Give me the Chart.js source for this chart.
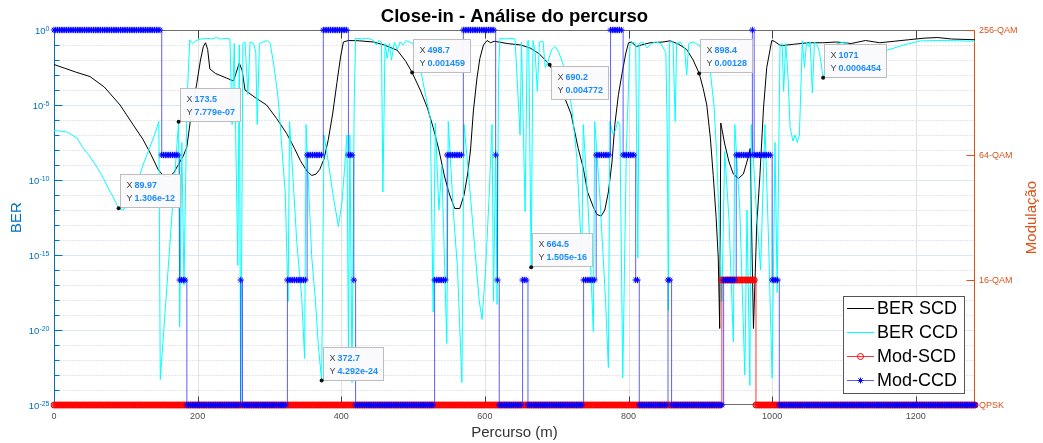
<!DOCTYPE html>
<html>
<head>
<meta charset="utf-8">
<title>Close-in - Análise do percurso</title>
<script src="https://cdn.jsdelivr.net/npm/chart.js@4/dist/chart.umd.min.js"></script>
<style>
  html, body { margin: 0; padding: 0; background: #fff; }
  #wrap { width: 1043px; height: 443px; }
</style>
</head>
<body>
<div id="wrap"><canvas id="chart" width="1043" height="443"></canvas></div>
<script>
// ---- data ----
// BER curves: [distance (m), log10(BER)]
const berScd = [
  [0,-2.3],[15,-2.55],[30,-2.8],[50,-3.1],[70,-3.8],[92,-5.0],[110,-6.3],[124,-7.3],[135,-8.3],[145,-9.3],
  [152,-9.7],[160,-9.8],[167,-9.5],[174,-8.9],[180,-8.4],[185,-7.8],[190,-6.0],[195,-4.6],[199,-3.5],[204,-2.0],
  [208,-1.1],[211,-0.85],[214,-1.3],[217,-2.6],[225,-2.9],[240,-3.2],[250,-3.4],[254,-2.8],[258,-2.2],[262,-2.7],
  [266,-4.0],[280,-4.5],[296,-5.0],[310,-5.9],[324,-6.9],[335,-7.9],[343,-8.7],[352,-9.4],[359,-9.7],[365,-9.6],
  [370,-9.3],[376,-8.6],[382,-7.3],[388,-5.6],[394,-3.5],[399,-1.8],[403,-0.8],[410,-0.7],[425,-0.72],[445,-0.8],
  [460,-1.0],[478,-1.35],[490,-2.1],[498.7,-2.84],[510,-4.0],[520,-5.2],[528,-6.5],[536,-8.0],[544,-9.8],[551,-11.0],
  [558,-11.9],[565,-11.9],[571,-11.0],[576,-9.6],[580,-8.0],[584,-5.4],[589,-3.2],[593,-1.9],[598,-1.0],[603,-0.7],
  [608,-0.85],[613,-0.75],[631,-0.9],[650,-1.0],[663,-1.2],[676,-1.6],[686,-2.1],[690.2,-2.32],[700,-3.3],[711,-4.5],
  [720,-5.6],[730,-7.9],[737,-9.2],[743,-10.8],[751,-11.8],[756,-12.3],[762,-12.4],[767,-12.0],[772,-10.8],[777,-8.8],
  [781,-6.3],[786,-4.3],[791,-2.9],[796,-1.6],[800,-0.85],[804,-0.8],[811,-1.1],[818,-1.0],[830,-0.85],[848,-0.8],
  [858,-0.72],[870,-0.95],[881,-1.3],[890,-2.0],[898.4,-2.89],[904,-3.9],[909,-5.0],[914,-7.2],[918,-9.7],[922,-12.5],
  [925,-15.2],[927,-19.9],[928.5,-6.2],[934,-7.6],[940,-8.8],[946,-9.6],[953,-9.9],[960,-9.6],[966,-8.6],[969.4,-7.9],
  [974,-19.9],[978.6,-13],[983,-9.7],[988,-5.2],[992.5,-2.5],[999.5,-0.7],[1003,-0.75],[1012,-1.05],[1030,-0.95],[1050,-0.85],
  [1070,-0.85],[1090,-0.8],[1110,-0.9],[1130,-0.7],[1150,-0.85],[1170,-0.75],[1190,-0.65],[1210,-0.55],[1230,-0.5],[1250,-0.6],
  [1282.5,-0.65]
];
const berCcd = [
  [0,-6.7],[10,-6.75],[18,-6.8],[25,-7.0],[32,-7.2],[41,-7.9],[48,-8.3],[55,-8.8],[62,-9.3],[69,-9.9],
  [75,-10.5],[81,-11.0],[86,-11.5],[89.97,-11.88],[96,-12.0],[101,-11.8],[106,-11.6],[112,-10.8],[118,-9.9],[124,-9.0],
  [132,-8.0],[140,-7.0],[146,-6.1],[148,-23.3],[173.5,-6.11],[175,-19.8],[178,-7.5],[181,-17],[185,-5],[189,-0.65],
  [193,-0.9],[198,-0.7],[205,-0.6],[213,-0.55],[220,-0.6],[226,-0.5],[232,-0.6],[240,-0.55],[245,-0.6],[248,-6.3],
  [251,-0.9],[256,-15.7],[258,-1.0],[260,-26],[263,-0.9],[266,-0.8],[270,-4.3],[273,-0.8],[278,-0.9],[281,-1.5],
  [283,-6.3],[286,-0.9],[291,-0.8],[297,-0.7],[301,-0.9],[305,-2],[308,-3.0],[312,-4.5],[315,-6.3],[319,-9],
  [322,-10.8],[326,-18.1],[328,-6.1],[333,-10],[338,-14.1],[345,-17.9],[349,-21.9],[351,-6.3],[355,-11],[359,-15.2],
  [364,-18],[368,-21],[372.7,-23.37],[376,-7.0],[381,-8.5],[388,-10.8],[396,-13.1],[401,-11.5],[405,-9],[408,-7.0],
  [410,-21.5],[412,-7],[415,-23.5],[418,-5],[420,-0.55],[428,-0.6],[435,-0.55],[440,-0.6],[445,-0.7],[449,-1.0],
  [452,-0.7],[456,-0.8],[458,-10.8],[461,-0.9],[464,-1.9],[467,-0.9],[470,-2.0],[474,-0.8],[478,-1.3],[482,-0.8],
  [486,-1.0],[490,-0.7],[500,-0.9],[510,-2.5],[518,-4.5],[524,-5.9],[528,-18.8],[531,-6.2],[536,-12],[540,-9],
  [547,-20.9],[549,-6.1],[556,-12],[562,-16],[568,-23.5],[571,-6.3],[578,-10],[585,-14],[592,-18],[596,-19.3],
  [601,-16],[606,-11],[610,-6.3],[612,-18.1],[615,-8],[617,-18.3],[619,-3],[621,-0.55],[628,-0.6],[635,-0.55],
  [642,-0.6],[649,-7],[651,-0.8],[656,-12.1],[659,-0.8],[661,-0.7],[664.5,-15.82],[667,-0.7],[670,-1.5],[673,-4.1],
  [676,-0.8],[681,-0.75],[684,-2.5],[688,-2.1],[693,-1.3],[698,-1.1],[703,-1.5],[709,-2.3],[715,-3.5],[721,-5.2],
  [728,-8.5],[735,-15.2],[737,-6.3],[744,-12],[751,-20.1],[753,-6.1],[760,-11],[768,-18],[772,-22.5],[774,-6.1],
  [778,-6.9],[781,-6.8],[785,-6.1],[788,-6.3],[792,-23.2],[797,-8],[802,-1.0],[806,-0.8],[810,-0.9],[813,-15.2],
  [815,-0.9],[820,-0.8],[826,-1.2],[832,-0.9],[838,-0.8],[845,-0.9],[852,-1.5],[854,-7],[855.5,-18.7],[857,-0.8],
  [862,-0.8],[865,-6.1],[867,-0.9],[872,-0.8],[878,-1.2],[881,-3.0],[884,-0.9],[890,-0.8],[898,-1.0],[905,-1.5],
  [910,-2.2],[914,-2.8],[919,-5],[923,-8.5],[930,-18.1],[934,-8.1],[940,-12.7],[946,-20.8],[948,-6.3],[955,-12],
  [962,-23],[965,-12],[969,-23.7],[971,-6.3],[978,-12],[984,-16],[990,-6.3],[995,-14],[1000,-23.2],[1004,-7.5],
  [1007,-17.5],[1011,-1.0],[1014,-0.9],[1016,-4.1],[1019,-0.9],[1022,-3],[1025,-6.5],[1029,-7.4],[1032,-7.0],[1035,-7.5],
  [1038,-7.0],[1042,-0.73],[1045,-2.5],[1048,-0.8],[1051,-1.1],[1053,-0.8],[1056,-4.2],[1059,-0.8],[1063,-1.0],[1066,-1.5],
  [1071,-3.19],[1085,-1.0],[1100,-0.8],[1120,-1.3],[1140,-1.8],[1160,-1.35],[1183,-1.0],[1206,-0.73],[1230,-0.7],[1260,-0.72],
  [1282.5,-0.75]
];

// modulation logs: level changes (start distance in m -> level)
// levels: 0 = QPSK, 1 = 16-QAM, 2 = 64-QAM, 3 = 256-QAM
const modCcdStart = [0, 150, 175, 185, 260, 262.5, 325, 352.5, 375, 410, 417.5, 420, 530, 547.5, 570, 615, 617.5,
  620, 652.5, 660, 737.5, 755, 775, 792.5, 810, 815, 855, 860, 932.5, 950, 972.5, 975, 1000, 1010];
const modCcdLevel = [3, 2, 1, 0, 1, 0, 1, 2, 3, 2, 1, 0, 1, 2, 3, 2, 1,
  0, 1, 0, 1, 2, 3, 2, 1, 0, 1, 0, 1, 2, 3, 2, 1, 0];
const modScdStart = [0, 930, 977.5];
const modScdLevel = [0, 1, 0];
const modStep = 2.5;      // sample spacing of the modulation log (m)
const modSamples = 514;   // 0 .. 1282.5 m

// axes
const xTicks = [0, 200, 400, 600, 800, 1000, 1200];
const berTickExp = [0, -5, -10, -15, -20, -25];
const modTicks = [0, 1, 2, 3];
const modLabels = ['QPSK', '16-QAM', '64-QAM', '256-QAM'];

// data tips
const tipX = [89.97, 173.5, 372.7, 498.7, 664.5, 690.2, 898.4, 1071];
const tipY = [1.306e-12, 7.779e-07, 4.292e-24, 0.001459, 1.505e-16, 0.004772, 0.00128, 0.0006454];
const tipSide = ['up', 'up', 'up', 'up', 'up', 'down', 'up', 'up'];

// ---- build datasets ----
const FONT = '"Liberation Sans", Arial, Helvetica, sans-serif';
const BLUE_AX = '#0072BD';
const ORANGE_AX = '#D95319';

function levelAt(starts, levels, d) {
    let lv = levels[0];
    for (let k = 0; k < starts.length; k++) {
        if (d >= starts[k] - 1e-9) lv = levels[k];
    }
    return lv;
}

const distance = [];
for (let i = 0; i < modSamples; i++) distance.push(i * modStep);

const modCcd = distance.map(d => ({ x: d, y: levelAt(modCcdStart, modCcdLevel, d) }));
const modScd = distance.map(d => ({ x: d, y: levelAt(modScdStart, modScdLevel, d) }));
const toBer = pts => pts.map(p => ({ x: p[0], y: Math.pow(10, p[1]) }));

// %.4g style, like the MATLAB data tips
function fmtG(v) {
    const e = Math.floor(Math.log10(Math.abs(v)));
    if (e < -4 || e >= 4) {
        let s = v.toExponential(3).replace(/\.?0+e/, 'e');
        return s.replace(/e([+-])(\d)$/, (m, sg, dg) => 'e' + sg + '0' + dg);
    }
    return String(Number(v.toPrecision(4)));
}

function drawStar(ctx, cx, cy, r) {
    const d = r * Math.SQRT1_2;
    ctx.beginPath();
    ctx.moveTo(cx - r, cy); ctx.lineTo(cx + r, cy);
    ctx.moveTo(cx, cy - r); ctx.lineTo(cx, cy + r);
    ctx.moveTo(cx - d, cy - d); ctx.lineTo(cx + d, cy + d);
    ctx.moveTo(cx - d, cy + d); ctx.lineTo(cx + d, cy - d);
    ctx.stroke();
}

const matlabFrame = {
    id: 'matlabFrame',
    beforeDatasetsDraw(chart) {
        const { ctx, chartArea: a } = chart;
        const { x, y, y2 } = chart.scales;
        const L = a.left + 0.5, R = a.right - 0.5, T = a.top + 0.5, B = a.bottom - 0.5;
        ctx.save();
        ctx.lineWidth = 1;

        // vertical grid
        ctx.strokeStyle = '#e2e2e2';
        ctx.beginPath();
        xTicks.forEach(v => {
            const px = Math.round(x.getPixelForValue(v)) + 0.5;
            if (px > L + 1 && px < R - 1) { ctx.moveTo(px, T); ctx.lineTo(px, B); }
        });
        ctx.stroke();

        // minor decades (dotted)
        ctx.strokeStyle = '#c4ced8';
        ctx.setLineDash([1, 2]);
        ctx.beginPath();
        for (let e = -25; e <= 0; e++) {
            if (berTickExp.includes(e)) continue;
            const py = Math.round(y.getPixelForValue(Math.pow(10, e))) + 0.5;
            ctx.moveTo(L, py); ctx.lineTo(R, py);
        }
        ctx.stroke();
        ctx.setLineDash([]);

        // major decades
        ctx.strokeStyle = '#d9e8f4';
        ctx.beginPath();
        berTickExp.forEach(e => {
            const py = Math.round(y.getPixelForValue(Math.pow(10, e))) + 0.5;
            if (py > T + 1 && py < B - 1) { ctx.moveTo(L, py); ctx.lineTo(R, py); }
        });
        ctx.stroke();

        // box top / bottom
        ctx.strokeStyle = '#6f6f6f';
        ctx.beginPath();
        ctx.moveTo(L, T); ctx.lineTo(R, T);
        ctx.moveTo(L, B); ctx.lineTo(R, B);
        ctx.stroke();

        // x ticks (inward, bottom and top)
        ctx.strokeStyle = '#404040';
        ctx.beginPath();
        xTicks.forEach(v => {
            const px = Math.round(x.getPixelForValue(v)) + 0.5;
            ctx.moveTo(px, B); ctx.lineTo(px, B - 8);
            ctx.moveTo(px, T); ctx.lineTo(px, T + 8);
        });
        ctx.stroke();

        // left axis
        ctx.strokeStyle = BLUE_AX;
        ctx.beginPath();
        ctx.moveTo(L, T); ctx.lineTo(L, B);
        for (let e = -25; e <= 0; e++) {
            const py = Math.round(y.getPixelForValue(Math.pow(10, e))) + 0.5;
            ctx.moveTo(L, py); ctx.lineTo(L + (berTickExp.includes(e) ? 8 : 5), py);
        }
        ctx.stroke();

        // right axis
        ctx.strokeStyle = ORANGE_AX;
        ctx.beginPath();
        ctx.moveTo(R, T); ctx.lineTo(R, B);
        modTicks.forEach(v => {
            const py = Math.round(y2.getPixelForValue(v)) + 0.5;
            ctx.moveTo(R, py); ctx.lineTo(R - 8, py);
        });
        ctx.stroke();
        ctx.restore();
    },
    afterDraw(chart) {
        const { ctx, chartArea: a } = chart;
        const { x, y, y2 } = chart.scales;
        const midX = (a.left + a.right) / 2, midY = (a.top + a.bottom) / 2;
        ctx.save();

        // title
        ctx.fillStyle = '#000';
        ctx.font = 'bold 18.5px ' + FONT;
        ctx.textAlign = 'center';
        ctx.textBaseline = 'alphabetic';
        ctx.fillText('Close-in - Análise do percurso', midX, 22);

        // x tick labels + label
        ctx.fillStyle = '#4d4d4d';
        ctx.font = '9px ' + FONT;
        xTicks.forEach(v => ctx.fillText(String(v), x.getPixelForValue(v), a.bottom + 14));
        ctx.fillStyle = '#333';
        ctx.font = '15px ' + FONT;
        ctx.fillText('Percurso (m)', midX, a.bottom + 32);

        // left tick labels 10^e
        ctx.fillStyle = BLUE_AX;
        ctx.textAlign = 'right';
        berTickExp.forEach(e => {
            const py = y.getPixelForValue(Math.pow(10, e));
            const ex = String(e);
            ctx.font = '7px ' + FONT;
            ctx.textBaseline = 'alphabetic';
            const ew = ctx.measureText(ex).width;
            ctx.fillText(ex, a.left - 4.5, py + 0.5);
            ctx.font = '9.5px ' + FONT;
            ctx.textBaseline = 'middle';
            ctx.fillText('10', a.left - 4.5 - ew, py + 1.5);
        });

        // right tick labels
        ctx.fillStyle = ORANGE_AX;
        ctx.textAlign = 'left';
        ctx.textBaseline = 'middle';
        ctx.font = '9px ' + FONT;
        modTicks.forEach((v, i) => ctx.fillText(modLabels[i], a.right + 4, y2.getPixelForValue(v) + 0.5));

        // axis titles
        ctx.font = '15px ' + FONT;
        ctx.textAlign = 'center';
        ctx.save();
        ctx.translate(17, midY);
        ctx.rotate(-Math.PI / 2);
        ctx.fillStyle = BLUE_AX;
        ctx.fillText('BER', 0, 0);
        ctx.restore();
        ctx.save();
        ctx.translate(1032, midY);
        ctx.rotate(-Math.PI / 2);
        ctx.fillStyle = ORANGE_AX;
        ctx.fillText('Modulação', 0, 0);
        ctx.restore();

        // data tips
        tipX.forEach((tx, i) => {
            const px = x.getPixelForValue(tx);
            const py = y.getPixelForValue(tipY[i]);
            const vx = fmtG(tx), vy = fmtG(tipY[i]);
            ctx.font = 'bold 9px ' + FONT;
            const vw = Math.max(ctx.measureText(vx).width, ctx.measureText(vy).width);
            const w = Math.round(14 + vw + 5), h = 33;
            const left = Math.round(px) + 1.5;
            const top = tipSide[i] === 'up' ? Math.round(py) - h - 0.5 : Math.round(py) + 1.5;
            ctx.fillStyle = 'rgba(250,250,253,0.96)';
            ctx.strokeStyle = '#bdbdbd';
            ctx.lineWidth = 1;
            ctx.fillRect(left, top, w, h);
            ctx.strokeRect(left, top, w, h);
            ctx.textAlign = 'left';
            ctx.textBaseline = 'alphabetic';
            ctx.font = '9px ' + FONT;
            ctx.fillStyle = '#444';
            ctx.fillText('X', left + 6, top + 13.5);
            ctx.fillText('Y', left + 6, top + 26);
            ctx.font = 'bold 9px ' + FONT;
            ctx.fillStyle = '#1a8cff';
            ctx.fillText(vx, left + 14, top + 13.5);
            ctx.fillText(vy, left + 14, top + 26);
            ctx.fillStyle = '#111';
            ctx.beginPath();
            ctx.arc(px, py, 2, 0, Math.PI * 2);
            ctx.fill();
        });

        // legend
        const lx = 843.5, ly = 296.5, lw = 121, lh = 97;
        ctx.fillStyle = '#fff';
        ctx.fillRect(lx, ly, lw, lh);
        ctx.strokeStyle = '#555';
        ctx.lineWidth = 1;
        ctx.strokeRect(lx, ly, lw, lh);
        const rows = [308.5, 332.5, 356.5, 380.5];
        const sets = chart.data.datasets;
        ctx.font = '18px ' + FONT;
        ctx.textBaseline = 'middle';
        ctx.textAlign = 'left';
        sets.forEach((ds, i) => {
            const ry = rows[i];
            ctx.strokeStyle = ds.borderColor;
            ctx.beginPath();
            ctx.moveTo(847, ry); ctx.lineTo(874, ry);
            ctx.stroke();
            ctx.strokeStyle = ds.pointBorderColor || ds.borderColor;
            if (ds.pointStyle === 'circle') {
                ctx.beginPath();
                ctx.arc(860.5, ry, 3, 0, Math.PI * 2);
                ctx.stroke();
            } else if (ds.pointStyle === 'star') {
                drawStar(ctx, 860.5, ry, 3);
            }
            ctx.fillStyle = '#000';
            ctx.fillText(ds.label, 877, ry + 1);
        });
        ctx.restore();
    }
};

new Chart(document.getElementById('chart').getContext('2d'), {
    type: 'line',
    data: {
        datasets: [
            {
                label: 'BER SCD', data: toBer(berScd), yAxisID: 'y',
                borderColor: '#000000', borderWidth: 1, pointRadius: 0, order: 4
            },
            {
                label: 'BER CCD', data: toBer(berCcd), yAxisID: 'y',
                borderColor: '#00ffff', borderWidth: 1, pointRadius: 0, order: 3
            },
            {
                label: 'Mod-SCD', data: modScd, yAxisID: 'y2', stepped: true,
                borderColor: 'rgba(255,0,0,0.8)', borderWidth: 1,
                pointStyle: 'circle', pointRadius: 3, pointBorderWidth: 1,
                pointBorderColor: '#ff0000', pointBackgroundColor: 'rgba(255,0,0,0.45)',
                clip: 6, order: 2
            },
            {
                label: 'Mod-CCD', data: modCcd, yAxisID: 'y2', stepped: true,
                borderColor: 'rgba(40,40,255,0.75)', borderWidth: 1,
                pointStyle: 'star', pointRadius: 3.2, pointBorderWidth: 1,
                pointBorderColor: '#0000ff', pointBackgroundColor: '#0000ff',
                clip: 6, order: 1
            }
        ]
    },
    options: {
        responsive: false,
        animation: false,
        devicePixelRatio: 1,
        events: [],
        layout: { padding: { left: 54, right: 68, top: 30, bottom: 38 } },
        plugins: {
            legend: { display: false },
            title: { display: false },
            tooltip: { enabled: false }
        },
        scales: {
            x: { type: 'linear', min: 0, max: 1282.5, display: false },
            y: { type: 'logarithmic', min: 1e-25, max: 1, display: false },
            y2: { type: 'linear', min: 0, max: 3, display: false, position: 'right' }
        }
    },
    plugins: [matlabFrame]
});
</script>
</body>
</html>
